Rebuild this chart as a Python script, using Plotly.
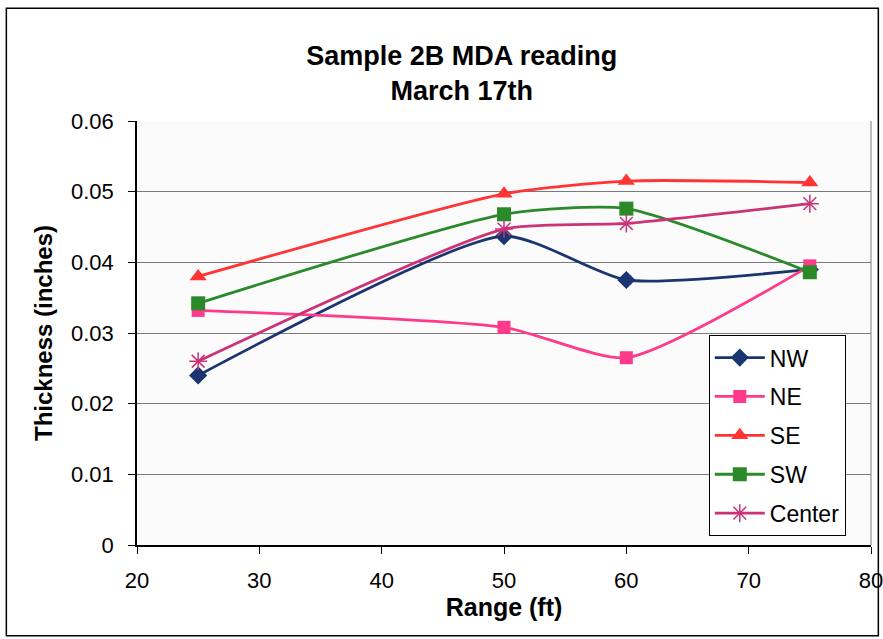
import plotly.graph_objects as go

ranges = [25, 50, 60, 75]
nw = [0.0240, 0.0437, 0.0375, 0.0390]
ne = [0.0332, 0.0308, 0.0265, 0.0395]
se = [0.0380, 0.0497, 0.0515, 0.0513]
sw = [0.0342, 0.0468, 0.0476, 0.0386]
center = [0.0260, 0.0447, 0.0455, 0.0483]

series = [
    ("NW", nw, "#1b3570", "diamond", 14),
    ("NE", ne, "#ff3a8a", "square", 13),
    ("SE", se, "#ff3535", "triangle-up", 15),
    ("SW", sw, "#2a8a2a", "square", 14),
    ("Center", center, "#cc3377", "asterisk-open", 15),
]

FONT = "Liberation Sans, Arial, sans-serif"

fig = go.Figure()
for name, vals, col, sym, size in series:
    marker = dict(symbol=sym, size=size, color=col)
    if sym == "asterisk-open":
        marker["line"] = dict(color=col, width=1.5)
    fig.add_trace(go.Scatter(
        x=ranges, y=vals, name=name, mode="lines+markers", legendgroup=name,
        line=dict(color=col, width=2.8, shape="spline", smoothing=0.6),
        marker=marker,
    ))

fig.update_layout(
    width=883, height=639,
    margin=dict(l=137, r=12, t=121, b=94),
    paper_bgcolor="white",
    plot_bgcolor="#fbfbfb",
    font=dict(family=FONT, size=22, color="black"),
    title=dict(
        text="<b>Sample 2B MDA reading<br>March 17th</b>",
        x=0.523, xanchor="center", y=0.898, yanchor="middle",
        font=dict(family=FONT, size=27, color="black"),
    ),
    showlegend=True,
    legend=dict(
        x=0.779, y=0.495, xanchor="left", yanchor="top",
        bgcolor="white", bordercolor="black", borderwidth=1,
        font=dict(family=FONT, size=23, color="black"),
        tracegroupgap=6, itemwidth=50,
    ),
    shapes=[dict(type="rect", xref="paper", yref="paper",
                 x0=-0.178, x1=1.01, y0=-0.214, y1=1.266,
                 line=dict(color="black", width=1.5))],
)

fig.update_xaxes(
    range=[20, 80], dtick=10, tick0=20,
    showgrid=False, zeroline=False, automargin=False,
    showline=True, linecolor="black", linewidth=1.5,
    ticks="outside", ticklen=7, tickcolor="black",
    tickfont=dict(family=FONT, size=22),
    ticklabelstandoff=8, ticklabeloverflow="allow",
    title=dict(text="<b>Range (ft)</b>", font=dict(family=FONT, size=25), standoff=6),
)
fig.update_yaxes(
    range=[0, 0.06], dtick=0.01, tick0=0,
    showgrid=True, gridcolor="#7a7a7a", gridwidth=1,
    zeroline=False, automargin=False,
    showline=True, linecolor="black", linewidth=1.5,
    ticks="outside", ticklen=7, tickcolor="black",
    tickfont=dict(family=FONT, size=22),
    ticklabelstandoff=10,
    title=dict(text="<b>Thickness (inches)</b>", font=dict(family=FONT, size=24), standoff=12),
)
# right border of the plot area
fig.add_shape(type="line", xref="paper", yref="paper", x0=1, x1=1, y0=0, y1=1,
              line=dict(color="#7a7a7a", width=1))

fig.write_html("out.html")
